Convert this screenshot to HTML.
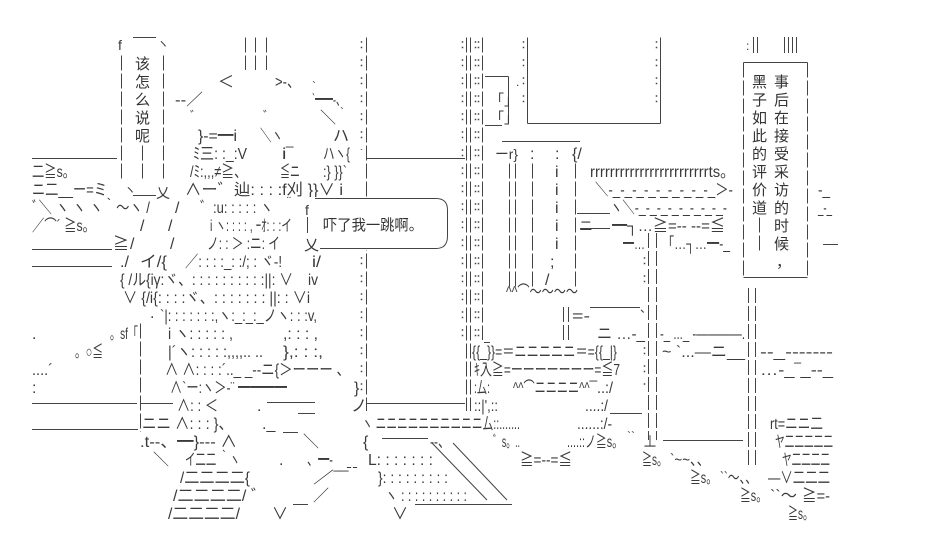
<!DOCTYPE html>
<html><head><meta charset="utf-8">
<style>
html,body{margin:0;padding:0;background:#fff}
svg{display:block}
text{font-family:"Liberation Sans","Noto Sans CJK JP",sans-serif;font-size:16px;fill:#3a3a3a}
.sc{font-family:"Liberation Sans","Noto Sans CJK SC",sans-serif;font-size:15px;fill:#333}
.sm{font-size:12px}
line,path,rect{stroke:#444;stroke-width:1;fill:none}
.d{stroke-dasharray:15 3}
.dot{stroke-dasharray:1.5 4 1.5 11;stroke-width:1.5}
</style></head><body>
<svg width="935" height="550" viewBox="0 0 935 550" xmlns="http://www.w3.org/2000/svg">
<rect x="0" y="0" width="935" height="550" style="fill:#fff;stroke:none"/>

<!-- left horizontals -->
<line x1="32" y1="158.5" x2="117" y2="158.5"/>
<line x1="32" y1="249.5" x2="112" y2="249.5"/>
<line x1="32" y1="266.5" x2="112" y2="266.5"/>
<line x1="32" y1="403.5" x2="137" y2="403.5"/>
<line x1="32" y1="429.5" x2="138" y2="429.5"/>

<!-- bubble 1 -->
<text x="118" y="50" style="font-size:14px">f</text>
<line x1="133" y1="37.5" x2="156" y2="37.5"/>
<text x="157" y="48" class="sm">ヽ</text>
<line x1="121.5" y1="55.5" x2="121.5" y2="178.5" class="d"/>
<line x1="163.5" y1="55.5" x2="163.5" y2="178.5" class="d"/>
<line x1="142.5" y1="145.5" x2="142.5" y2="178.5" class="d"/>
<text x="124" y="194" class="sm">ヽ</text>
<line x1="133" y1="195.5" x2="156" y2="195.5"/>
<text x="156" y="198" style="font-size:14px">乂</text>
<text x="135" y="69" class="sc">该</text>
<text x="135" y="87" class="sc">怎</text>
<text x="135" y="105" class="sc">么</text>
<text x="135" y="123" class="sc">说</text>
<text x="135" y="141" class="sc">呢</text>

<!-- ||| -->
<line x1="245.5" y1="37.5" x2="245.5" y2="70" class="d"/>
<line x1="255.5" y1="37.5" x2="255.5" y2="70" class="d"/>
<line x1="266.5" y1="37.5" x2="266.5" y2="70" class="d"/>

<!-- column 365 -->
<line x1="361.5" y1="41.25" x2="361.5" y2="150" class="dot"/>
<line x1="361.5" y1="239.25" x2="361.5" y2="396" class="dot"/>
<line x1="366.5" y1="37.5" x2="366.5" y2="411" class="d"/>
<line x1="367" y1="158.5" x2="465" y2="158.5"/>
<line x1="367" y1="403.5" x2="465" y2="403.5"/>

<!-- column 462-483 -->
<line x1="462.5" y1="41.25" x2="462.5" y2="345" class="dot"/>
<line x1="466.5" y1="37.5" x2="466.5" y2="411" class="d"/>
<line x1="470.5" y1="37.5" x2="470.5" y2="411" class="d"/>
<line x1="475.5" y1="41.25" x2="475.5" y2="345" class="dot"/>
<line x1="478.5" y1="41.25" x2="478.5" y2="345" class="dot"/>
<line x1="482.5" y1="37.5" x2="482.5" y2="340" class="d"/>
<line x1="484" y1="342.5" x2="490" y2="342.5"/>

<!-- upper box 527-660 -->
<line x1="523.5" y1="41.25" x2="523.5" y2="110" class="dot"/>
<line x1="656.5" y1="41.25" x2="656.5" y2="110" class="dot"/>
<line x1="527.5" y1="37.5" x2="527.5" y2="123.5"/>
<line x1="660.5" y1="37.5" x2="660.5" y2="123.5"/>
<line x1="527.5" y1="123.5" x2="660.5" y2="123.5"/>

<!-- small structure 482-520 -->
<line x1="485" y1="76.5" x2="508.5" y2="76.5"/>
<line x1="508.5" y1="76.5" x2="508.5" y2="123"/>
<text x="516" y="86" class="sm">.</text>
<text x="490" y="105" style="font-size:14px">「」</text>
<text x="490" y="123" style="font-size:14px">「」</text>
<line x1="485" y1="125.5" x2="502" y2="125.5"/>
<line x1="502" y1="141.5" x2="580" y2="141.5"/>

<!-- pillar 495-583 -->
<text x="495" y="159" textLength="23" lengthAdjust="spacingAndGlyphs" style="font-size:14px">ーr}</text>
<text x="530" y="159">:</text>
<text x="555" y="159">:</text>
<text x="572" y="159">{/</text>
<line x1="509.5" y1="163.5" x2="509.5" y2="287" class="d"/>
<line x1="515.5" y1="163.5" x2="515.5" y2="287" class="d"/>
<line x1="532.5" y1="163.5" x2="532.5" y2="287" class="d"/>
<line x1="575.5" y1="163.5" x2="575.5" y2="287" class="d"/>
<text x="555" y="177">i</text>
<text x="555" y="195">i</text>
<text x="555" y="213">i</text>
<text x="555" y="231">i</text>
<text x="555" y="249">i</text>
<text x="550" y="267">;</text>
<text x="545" y="285">/</text>
<text x="506" y="297" textLength="72" lengthAdjust="spacingAndGlyphs">^^⌒～～～～</text>

<!-- right AA -->
<text x="590" y="177" textLength="145" lengthAdjust="spacingAndGlyphs">rrrrrrrrrrrrrrrrrrrrrrrrts。</text>
<text x="595" y="195" textLength="138" lengthAdjust="spacingAndGlyphs">＼‐_‐_‐_‐_‐_‐_‐_‐_‐_＞-</text>
<text x="610" y="213" textLength="117" lengthAdjust="spacingAndGlyphs">ヽ＼‐_‐_‐_‐_‐_‐_‐_‐_‐</text>
<line x1="577" y1="213.5" x2="610" y2="213.5"/>
<text x="579" y="231" style="font-size:14px">ニ</text>
<line x1="580" y1="228.5" x2="610" y2="228.5"/>
<text x="612" y="231" textLength="113" lengthAdjust="spacingAndGlyphs">━┐…≧=-- --=≦</text>
<text x="623" y="249" textLength="22" lengthAdjust="spacingAndGlyphs">━…</text>
<line x1="648.5" y1="233" x2="648.5" y2="440" class="d"/>
<line x1="656.5" y1="233" x2="656.5" y2="440" class="d"/>
<line x1="644.5" y1="257.25" x2="644.5" y2="290" class="dot"/>
<line x1="644.5" y1="347.25" x2="644.5" y2="385" class="dot"/>
<text x="662" y="249" textLength="68" lengthAdjust="spacingAndGlyphs">「…┐…━-_</text>
<line x1="563.5" y1="307" x2="563.5" y2="342" class="d"/>
<line x1="568.5" y1="307" x2="568.5" y2="342" class="d"/>
<text x="572" y="321" textLength="18" lengthAdjust="spacingAndGlyphs">=-</text>
<line x1="590" y1="307.5" x2="640" y2="307.5"/>
<text x="640" y="312" class="sm">、</text>
<text x="597" y="339" textLength="48" lengthAdjust="spacingAndGlyphs">ニ …‐_</text>
<text x="660" y="339" textLength="85" lengthAdjust="spacingAndGlyphs">-_ ..._ ‐――――.</text>
<text x="472" y="357" textLength="145" lengthAdjust="spacingAndGlyphs">{{_}}=＝ニニニニニ＝={{_|}</text>
<text x="662" y="357" textLength="83" lengthAdjust="spacingAndGlyphs">~ `...—ニ__</text>
<text x="760" y="357" textLength="73" lengthAdjust="spacingAndGlyphs">--_‐‐‐‐‐‐‐</text>
<text x="474" y="375" textLength="146" lengthAdjust="spacingAndGlyphs">ｷ入≧=ーーーーーーー=≦7</text>
<text x="760" y="375" textLength="73" lengthAdjust="spacingAndGlyphs">…‐_‾_-‐_</text>
<line x1="748.5" y1="288" x2="748.5" y2="465" class="d"/>
<line x1="755.5" y1="288" x2="755.5" y2="465" class="d"/>
<text x="474" y="393" textLength="16" lengthAdjust="spacingAndGlyphs">:厶:</text>
<text x="513" y="393" textLength="84" lengthAdjust="spacingAndGlyphs">^^⌒ニニニニ^^‾‾</text>
<text x="597" y="393" textLength="16" lengthAdjust="spacingAndGlyphs">..:/</text>
<text x="474" y="411" textLength="24" lengthAdjust="spacingAndGlyphs">::|',::</text>
<text x="585" y="411" textLength="23" lengthAdjust="spacingAndGlyphs">....:/</text>
<line x1="610" y1="413.5" x2="642" y2="413.5"/>
<text x="362" y="429" textLength="158" lengthAdjust="spacingAndGlyphs">ヽ ニニニニニニニニニニ厶::.......</text>
<text x="577" y="429" textLength="35" lengthAdjust="spacingAndGlyphs">......:/-</text>
<text x="770" y="429" textLength="53" lengthAdjust="spacingAndGlyphs">rt=ニニ二</text>
<text x="363" y="447">{</text>
<line x1="382" y1="438.5" x2="428" y2="438.5"/>
<text x="430" y="447" textLength="20" lengthAdjust="spacingAndGlyphs">--、</text>
<text x="493" y="447" textLength="27" lengthAdjust="spacingAndGlyphs">゛s。..</text>
<text x="567" y="447" textLength="56" lengthAdjust="spacingAndGlyphs">....::ノ≧s。</text>
<text x="627" y="440" class="sm">``</text>
<text x="643" y="447" textLength="14" lengthAdjust="spacingAndGlyphs">⊥</text>
<line x1="663" y1="440.5" x2="743" y2="440.5"/>
<text x="775" y="447" textLength="58" lengthAdjust="spacingAndGlyphs">ヤ二二二二二</text>
<line x1="432" y1="443" x2="487" y2="500"/>
<line x1="453" y1="443" x2="507" y2="500"/>
<text x="368" y="465" textLength="65" lengthAdjust="spacingAndGlyphs">L: : : : : : :</text>
<text x="520" y="465" textLength="52" lengthAdjust="spacingAndGlyphs">≧=-‐=≦</text>
<text x="642" y="465" textLength="25" lengthAdjust="spacingAndGlyphs">≧s。</text>
<text x="670" y="465" textLength="40" lengthAdjust="spacingAndGlyphs">`~~、、</text>
<text x="782" y="465" textLength="48" lengthAdjust="spacingAndGlyphs">ヤ二二二二</text>
<text x="378" y="483" textLength="70" lengthAdjust="spacingAndGlyphs">}: : : : : : : : :</text>
<text x="690" y="483" textLength="27" lengthAdjust="spacingAndGlyphs">≧s。</text>
<text x="720" y="483" textLength="37" lengthAdjust="spacingAndGlyphs">``～、、</text>
<text x="768" y="483" textLength="62" lengthAdjust="spacingAndGlyphs">—∨二二二</text>
<text x="385" y="501" textLength="82" lengthAdjust="spacingAndGlyphs">ヽ : : : : : : : : : :</text>
<text x="740" y="501" textLength="27" lengthAdjust="spacingAndGlyphs">≧s。</text>
<text x="770" y="501" textLength="27" lengthAdjust="spacingAndGlyphs">``～</text>
<text x="802" y="501" textLength="28" lengthAdjust="spacingAndGlyphs">≧=‐</text>
<text x="392" y="519">∨</text>
<line x1="415" y1="504.5" x2="512" y2="504.5"/>
<text x="788" y="519" textLength="25" lengthAdjust="spacingAndGlyphs">≧s。</text>

<!-- right box -->
<text x="746" y="50" class="sm">:</text>
<line x1="753.5" y1="37" x2="753.5" y2="53"/>
<line x1="757.5" y1="37" x2="757.5" y2="53"/>
<line x1="784.5" y1="37" x2="784.5" y2="53"/>
<line x1="788.5" y1="37" x2="788.5" y2="53"/>
<line x1="792.5" y1="37" x2="792.5" y2="53"/>
<line x1="796.5" y1="37" x2="796.5" y2="53"/>
<line x1="743.5" y1="62.5" x2="807.5" y2="62.5"/>
<line x1="743.5" y1="277.5" x2="807.5" y2="277.5"/>
<line x1="743.5" y1="62.5" x2="743.5" y2="277.5" class="d"/>
<line x1="807.5" y1="62.5" x2="807.5" y2="277.5" class="d"/>
<text x="752" y="87" class="sc">黑</text>
<text x="752" y="105" class="sc">子</text>
<text x="752" y="123" class="sc">如</text>
<text x="752" y="141" class="sc">此</text>
<text x="752" y="159" class="sc">的</text>
<text x="752" y="177" class="sc">评</text>
<text x="752" y="195" class="sc">价</text>
<text x="752" y="213" class="sc">道</text>
<line x1="759.5" y1="217.5" x2="759.5" y2="250.5" class="d"/>
<text x="774" y="87" class="sc">事</text>
<text x="774" y="105" class="sc">后</text>
<text x="774" y="123" class="sc">在</text>
<text x="774" y="141" class="sc">接</text>
<text x="774" y="159" class="sc">受</text>
<text x="774" y="177" class="sc">采</text>
<text x="774" y="195" class="sc">访</text>
<text x="774" y="213" class="sc">的</text>
<text x="774" y="231" class="sc">时</text>
<text x="774" y="249" class="sc">候</text>
<text x="776" y="267" class="sc">，</text>
<text x="818" y="195" textLength="12" lengthAdjust="spacingAndGlyphs">-_</text>
<text x="818" y="213" textLength="14" lengthAdjust="spacingAndGlyphs">_-_</text>
<line x1="823" y1="244.5" x2="838" y2="244.5"/>

<!-- left AA -->
<text x="32" y="177" textLength="43" lengthAdjust="spacingAndGlyphs">二≧s。</text>
<text x="32" y="195" textLength="75" lengthAdjust="spacingAndGlyphs">ニ二__ー=ミ</text>
<text x="32" y="213" textLength="118" lengthAdjust="spacingAndGlyphs">ﾞ＼ ヽ ヽ ヽ｀～ヽ /</text>
<text x="32" y="231" textLength="63" lengthAdjust="spacingAndGlyphs">／⌒´ ≧s。</text>
<text x="140" y="231">/</text>
<text x="168" y="231">/</text>
<text x="113" y="249">≧</text>
<text x="130" y="249">/</text>
<text x="170" y="249">/</text>
<text x="120" y="267">./</text>
<text x="140" y="267" textLength="27" lengthAdjust="spacingAndGlyphs">イ/{</text>
<text x="32" y="339">.</text>
<text x="75" y="357" textLength="28" lengthAdjust="spacingAndGlyphs">。○≦</text>
<text x="32" y="375" textLength="21" lengthAdjust="spacingAndGlyphs">....´</text>
<text x="32" y="393">:</text>

<!-- middle figure -->
<text x="218" y="87">＜</text>
<text x="275" y="87" textLength="25" lengthAdjust="spacingAndGlyphs">&gt;-、</text>
<text x="312" y="90" class="sm">`</text>
<text x="175" y="105" textLength="28" lengthAdjust="spacingAndGlyphs">--／</text>
<text x="312" y="105" textLength="33" lengthAdjust="spacingAndGlyphs">`━━-、</text>
<text x="190" y="120" class="sm">゛</text>
<text x="263" y="120" class="sm">゛</text>
<text x="320" y="123">＼</text>
<text x="340" y="116" class="sm">`</text>
<text x="198" y="141" textLength="39" lengthAdjust="spacingAndGlyphs">}-=━i</text>
<text x="260" y="141" textLength="23" lengthAdjust="spacingAndGlyphs">＼ヽ</text>
<text x="333" y="141">ハ</text>
<text x="193" y="159" textLength="54" lengthAdjust="spacingAndGlyphs">ﾐ三: :_:V</text>
<text x="282" y="159" textLength="11" lengthAdjust="spacingAndGlyphs">i‾</text>
<text x="323" y="159" textLength="27" lengthAdjust="spacingAndGlyphs">ハヽ{</text>
<text x="190" y="177" textLength="57" lengthAdjust="spacingAndGlyphs">/ﾐ:,,,≠≧、</text>
<text x="280" y="177" textLength="20" lengthAdjust="spacingAndGlyphs">≦ニ</text>
<text x="323" y="177" textLength="24" lengthAdjust="spacingAndGlyphs">:} }}`</text>
<text x="185" y="195" textLength="158" lengthAdjust="spacingAndGlyphs">∧ー゛辿: : : :f刈 }}∨ i</text>
<text x="175" y="213">/</text>
<text x="200" y="213" textLength="73" lengthAdjust="spacingAndGlyphs">゛:u: : : : : ヽ</text>
<text x="287" y="205" class="sm">¨</text>
<text x="210" y="231" textLength="82" lengthAdjust="spacingAndGlyphs">i ヽ: : : : , ｰｵ: : :イ</text>
<text x="207" y="249" textLength="73" lengthAdjust="spacingAndGlyphs">ノ: : ＞ :ニ: イ</text>
<text x="185" y="267" textLength="97" lengthAdjust="spacingAndGlyphs">／: : : :_: :/; : ヾ-!</text>
<text x="312" y="267" textLength="9" lengthAdjust="spacingAndGlyphs">i/</text>
<text x="120" y="285" textLength="173" lengthAdjust="spacingAndGlyphs">{ /ル{iγ:ヾ、: : : : : : : : : :||: ∨</text>
<text x="308" y="285" textLength="10" lengthAdjust="spacingAndGlyphs">iv</text>
<text x="123" y="303" textLength="187" lengthAdjust="spacingAndGlyphs">∨ {/i{: : : :ヾ、: : : : : : : ||: : ∨i</text>
<text x="150" y="318">.</text>
<text x="160" y="321" textLength="157" lengthAdjust="spacingAndGlyphs">`|: : : : : : :,ヽ:_:_:_ノヽ: : :v,</text>
<text x="110" y="339" textLength="28" lengthAdjust="spacingAndGlyphs">。sf「</text>
<line x1="140.5" y1="323.5" x2="140.5" y2="432" class="d"/>
<text x="168" y="339" textLength="65" lengthAdjust="spacingAndGlyphs">i ヽ: : : : : ,</text>
<text x="283" y="339" textLength="35" lengthAdjust="spacingAndGlyphs">,: : : ,</text>
<text x="168" y="357" textLength="95" lengthAdjust="spacingAndGlyphs">|´ヽ: : : : :,,,,.. ..</text>
<text x="283" y="357" textLength="40" lengthAdjust="spacingAndGlyphs">},: : :,</text>
<text x="165" y="375" textLength="185" lengthAdjust="spacingAndGlyphs">∧  ∧: : : :´.._ _-‐ニ{＞ーーー 、</text>
<text x="170" y="393" textLength="117" lengthAdjust="spacingAndGlyphs">∧`ー:ヽ＞-¨ ━━━━</text>
<text x="354" y="393">}</text>
<line x1="140" y1="403.5" x2="173" y2="403.5"/>
<text x="177" y="411" textLength="41" lengthAdjust="spacingAndGlyphs">∧: : ＜</text>
<text x="257" y="411">.</text>
<line x1="267" y1="402.5" x2="315" y2="402.5"/>
<text x="351" y="411">ノ</text>
<text x="142" y="429" textLength="91" lengthAdjust="spacingAndGlyphs">ニニ ∧: : : }、</text>
<text x="262" y="429">._</text>
<line x1="298" y1="413.5" x2="315" y2="413.5"/>
<text x="140" y="447" textLength="97" lengthAdjust="spacingAndGlyphs">.t--、━}--- ∧</text>
<line x1="283" y1="432.5" x2="298" y2="432.5"/>
<text x="303" y="447">＼</text>
<text x="153" y="465">＼</text>
<text x="185" y="465" textLength="55" lengthAdjust="spacingAndGlyphs">イ二二 ｀ヽ</text>
<text x="279" y="465">.</text>
<text x="307" y="465" textLength="26" lengthAdjust="spacingAndGlyphs">、━-</text>
<text x="347" y="465" textLength="10" lengthAdjust="spacingAndGlyphs">_ _</text>
<text x="180" y="483" textLength="70" lengthAdjust="spacingAndGlyphs">/二二二二{</text>
<text x="313" y="483" textLength="35" lengthAdjust="spacingAndGlyphs">／‾‾</text>
<text x="173" y="501" textLength="94" lengthAdjust="spacingAndGlyphs">/二二二二/  ゛</text>
<text x="313" y="501">／</text>
<text x="168" y="519" textLength="72" lengthAdjust="spacingAndGlyphs">/二二二二/</text>
<text x="272" y="519">∨</text>
<line x1="293" y1="504.5" x2="308" y2="504.5"/>

<!-- bubble 2 -->
<rect x="305" y="197" width="144" height="53" style="fill:#fff;stroke:none"/>
<path d="M315,198.5 H436 Q447.5,198.5 447.5,210 V236 Q447.5,248.5 436,248.5 H320"/>
<text x="305" y="215" style="font-size:14px">f</text>
<line x1="307.5" y1="217" x2="307.5" y2="233"/>
<text x="304" y="250" style="font-size:15px">乂</text>
<text x="323" y="230" class="sc" textLength="100" lengthAdjust="spacingAndGlyphs">吓了我一跳啊。</text>
</svg>
</body></html>
